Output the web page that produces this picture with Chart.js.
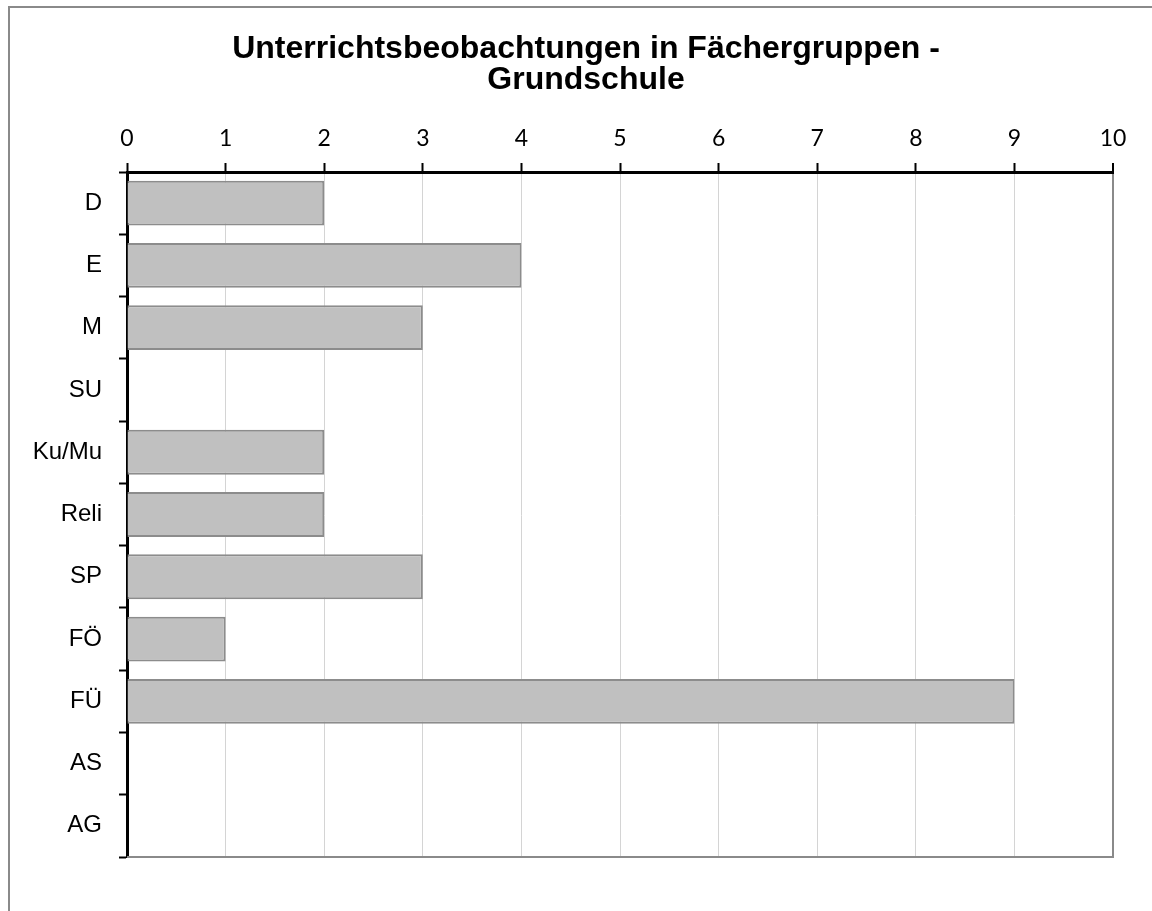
<!DOCTYPE html>
<html lang="de">
<head>
    <meta charset="UTF-8">
    <title>Unterrichtsbeobachtungen in Fächergruppen - Grundschule</title>
    <script src="https://cdn.jsdelivr.net/npm/chart.js"></script>
    <style>
        html, body { margin: 0; padding: 0; background: #fff; }
        #wrap { width: 1152px; height: 911px; }
    </style>
</head>
<body>
    <div id="wrap">
        <canvas id="faecherChart" width="1152" height="911"></canvas>
    </div>

    <script>
        const chartTitle = ['Unterrichtsbeobachtungen in Fächergruppen -', 'Grundschule'];
        const faecher = ['D', 'E', 'M', 'SU', 'Ku/Mu', 'Reli', 'SP', 'FÖ', 'FÜ', 'AS', 'AG'];
        const anzahl = [2, 4, 3, 0, 2, 2, 3, 1, 9, 0, 0];
        const xMin = 0;
        const xMax = 10;
        const xStep = 1;

        // grey frame, plot area right/bottom lines and the title
        // (title drawn here because it is centred on the whole frame, not on the plot)
        const framePlugin = {
            id: 'frame',
            beforeDraw(chart) {
                const c = chart.ctx;
                c.save();
                c.fillStyle = '#fff';
                c.fillRect(0, 0, chart.width, chart.height);
                c.strokeStyle = '#8a8a8a';
                c.lineWidth = 2;
                c.strokeRect(9, 7, chart.width + 20, chart.height + 20);

                c.fillStyle = '#000';
                c.font = 'bold 32px "Liberation Sans", Arial, sans-serif';
                c.textAlign = 'center';
                c.textBaseline = 'alphabetic';
                c.fillText(chartTitle[0], 586, 58);
                c.fillText(chartTitle[1], 586, 89);
                c.restore();
            },
            afterDatasetsDraw(chart) {
                const a = chart.chartArea;
                const c = chart.ctx;
                c.save();
                c.strokeStyle = '#8a8a8a';
                c.lineWidth = 2;
                c.beginPath();
                c.moveTo(a.left, a.bottom);
                c.lineTo(a.right + 1, a.bottom);
                c.stroke();
                c.restore();
            }
        };

        const ctx = document.getElementById('faecherChart').getContext('2d');
        const faecherChart = new Chart(ctx, {
            type: 'bar',
            data: {
                labels: faecher,
                datasets: [{
                    label: 'Anzahl',
                    data: anzahl,
                    backgroundColor: '#c0c0c0',
                    borderColor: '#8c8c8c',
                    borderWidth: c => (c.raw === 0 ? 0 : 2),
                    borderSkipped: 'start',
                    barPercentage: 0.72,
                    categoryPercentage: 1
                }]
            },
            options: {
                indexAxis: 'y',
                responsive: false,
                animation: false,
                layout: {
                    padding: { left: 0, right: 39, top: 101, bottom: 54 }
                },
                plugins: {
                    legend: { display: false },
                    tooltip: { enabled: false },
                    title: { display: false }
                },
                scales: {
                    x: {
                        position: 'top',
                        min: xMin,
                        max: xMax,
                        afterFit: s => { s.height = 71; },
                        ticks: {
                            stepSize: xStep,
                            color: '#000',
                            padding: 11,
                            font: { family: 'Lato', size: 23 }
                        },
                        grid: {
                            color: c => (c.index === 10 ? '#8a8a8a' : '#d4d4d4'),
                            lineWidth: c => (c.index === 10 ? 2 : 1),
                            tickColor: '#000',
                            tickLength: 9,
                            tickWidth: 2
                        },
                        border: { color: '#000', width: 3 }
                    },
                    y: {
                        z: 1,
                        afterFit: s => { s.width = 127; },
                        ticks: {
                            color: '#000',
                            padding: 17,
                            font: { family: 'Liberation Sans', size: 24 }
                        },
                        grid: {
                            drawOnChartArea: false,
                            offset: true,
                            tickColor: '#000',
                            tickLength: 8,
                            tickWidth: 2
                        },
                        border: { color: '#000', width: 3 }
                    }
                }
            },
            plugins: [framePlugin]
        });
    </script>
</body>
</html>
